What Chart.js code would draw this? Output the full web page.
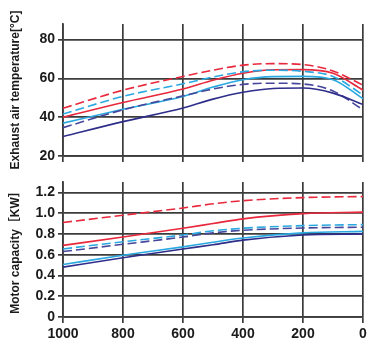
<!DOCTYPE html>
<html>
<head>
<meta charset="utf-8">
<script src="https://cdn.jsdelivr.net/npm/chart.js@4/dist/chart.umd.min.js"></script>
<style>
  body { margin: 0; background: #fff; }
  #wrap { position: relative; width: 382px; height: 350px; }
  #topBox { position: absolute; left: 0; top: 0; }
  #bottomBox { position: absolute; left: 0; top: 170px; }
</style>
</head>
<body>
<div id="wrap">
  <div id="topBox"><canvas id="tempChart" width="382" height="172"></canvas></div>
  <div id="bottomBox"><canvas id="powerChart" width="382" height="180"></canvas></div>
</div>
<script>
// airflow positions (x axis runs 1000 -> 0)
let tempX = [1000, 800, 600, 500, 400, 300, 200, 100, 0];
let powerX = [1000, 800, 600, 500, 400, 200, 0];

// exhaust air temperature [°C]
let tempRedDash = [44.6, 53.9, 61, 64.2, 66.8, 67.6, 67.1, 63.8, 56.5];
let tempRed = [40, 47.6, 54.5, 59, 62.6, 64.4, 64.5, 62.6, 54];
let tempCyanDash = [41.6, 50.7, 57.2, 60.7, 63.4, 64.2, 63.6, 61, 51.5];
let tempCyan = [36.9, 44.1, 50.7, 55.5, 59.3, 60.9, 61, 59.3, 49.5];
let tempNavyDash = [34.6, 43.8, 51, 54.5, 56.9, 57.5, 57.1, 53.5, 43.8];
let tempNavy = [30, 37.7, 44.7, 49.3, 52.8, 54.8, 55, 52.4, 46.5];

// motor capacity [KW]
let powerRedDash = [0.91, 0.98, 1.05, 1.09, 1.12, 1.15, 1.16];
let powerRed = [0.69, 0.77, 0.855, 0.9, 0.945, 0.995, 1.01];
let powerCyanDash = [0.655, 0.725, 0.79, 0.83, 0.855, 0.88, 0.89];
let powerNavyDash = [0.63, 0.7, 0.77, 0.81, 0.835, 0.857, 0.865];
let powerCyan = [0.505, 0.595, 0.675, 0.72, 0.76, 0.81, 0.825];
let powerNavy = [0.48, 0.57, 0.655, 0.695, 0.74, 0.79, 0.8];

let xTicks = [1000, 800, 600, 400, 200, 0];

const RED = "#e8283c";
const CYAN = "#2aa8e0";
const NAVY = "#2e2e8a";
const NAVY_DASH = "#46469a";
const GRID = "#3c3c3c";
const DASH = [9, 4];

function line(xs, ys, color, dashed) {
  return {
    data: xs.map((x, i) => ({ x: x, y: ys[i] })),
    borderColor: color,
    borderWidth: 1.6,
    borderDash: dashed ? DASH : [],
    pointRadius: 0,
    fill: false,
    cubicInterpolationMode: "monotone",
  };
}

function xAxis(showLabels) {
  return {
    type: "linear",
    reverse: true,
    min: 0,
    max: 1000,
    afterBuildTicks: (s) => { s.ticks = xTicks.map((v) => ({ value: v })); },
    ticks: {
      display: showLabels,
      color: "#1a1a1a",
      padding: 3,
      maxRotation: 0,
      font: { family: "Liberation Sans, Arial, sans-serif", size: 14, weight: "bold" },
      callback: (v) => String(v),
    },
    grid: { color: GRID, lineWidth: 1.7, tickLength: 6 },
    border: { color: GRID, width: 1.7 },
  };
}

function yTitle(text) {
  return {
    display: true,
    text: text,
    color: "#1a1a1a",
    padding: { top: 8, bottom: 0 },
    font: { family: "Liberation Sans, Arial, 'Noto Sans CJK SC', sans-serif", size: 12, weight: "bold" },
  };
}

const tickFont = { family: "Liberation Sans, Arial, sans-serif", size: 14, weight: "bold" };

new Chart(document.getElementById("tempChart"), {
  type: "line",
  data: {
    datasets: [
      line(tempX, tempNavy, NAVY, false),
      line(tempX, tempNavyDash, NAVY_DASH, true),
      line(tempX, tempCyan, CYAN, false),
      line(tempX, tempCyanDash, CYAN, true),
      line(tempX, tempRed, RED, false),
      line(tempX, tempRedDash, RED, true),
    ],
  },
  options: {
    responsive: false,
    animation: false,
    layout: { padding: { top: 24, right: 19, bottom: 10, left: 0 } },
    plugins: { legend: { display: false }, tooltip: { enabled: false } },
    scales: {
      x: xAxis(false),
      y: {
        min: 20,
        max: 88,
        afterFit: (s) => { s.width = 63; },
        ticks: {
          stepSize: 10,
          includeBounds: true,
          color: "#1a1a1a",
          padding: 3,
          font: tickFont,
          callback: (v) => (v % 20 === 0 && v <= 80 ? v : ""),
        },
        grid: { color: GRID, lineWidth: 1.7, tickLength: 5 },
        border: { color: GRID, width: 1.7 },
        title: yTitle("Exhaust air temperature[°C]"),
      },
    },
  },
});

new Chart(document.getElementById("powerChart"), {
  type: "line",
  data: {
    datasets: [
      line(powerX, powerNavy, NAVY, false),
      line(powerX, powerCyan, CYAN, false),
      line(powerX, powerNavyDash, NAVY_DASH, true),
      line(powerX, powerCyanDash, CYAN, true),
      line(powerX, powerRed, RED, false),
      line(powerX, powerRedDash, RED, true),
    ],
  },
  options: {
    responsive: false,
    animation: false,
    layout: { padding: { top: 12, right: 19, bottom: 7, left: 0 } },
    plugins: { legend: { display: false }, tooltip: { enabled: false } },
    scales: {
      x: Object.assign(xAxis(true), { afterFit: (s) => { s.height = 26; } }),
      y: {
        min: 0,
        max: 1.3,
        afterFit: (s) => { s.width = 63; },
        ticks: {
          stepSize: 0.2,
          includeBounds: false,
          color: "#1a1a1a",
          padding: 3,
          font: tickFont,
          callback: (v) => (v === 0 ? "0" : v.toFixed(1)),
        },
        grid: { color: GRID, lineWidth: 1.7, tickLength: 5 },
        border: { color: GRID, width: 1.7 },
        title: yTitle("Motor capacity［KW］"),
      },
    },
  },
});
</script>
</body>
</html>
